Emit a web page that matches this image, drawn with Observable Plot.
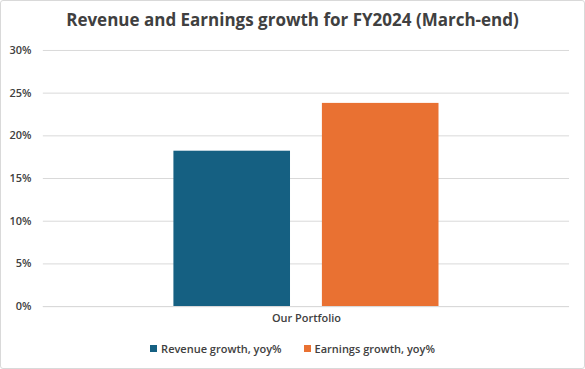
<!DOCTYPE html>
<html>
<head>
<meta charset="utf-8">
<script src="https://cdn.jsdelivr.net/npm/d3@7"></script>
<script src="https://cdn.jsdelivr.net/npm/@observablehq/plot@0.6"></script>
<style>
  html, body { margin: 0; padding: 0; background: #fff; }
  #wrap { width: 585px; height: 369px; box-sizing: border-box; border: 1px solid #d9d9d9; border-radius: 3px; position: relative; font-family: "Open Sans", sans-serif; color: #404040; overflow: hidden; }
  #title { position: absolute; top: 7px; left: 0; width: 100%; text-align: center; font-size: 17px; font-weight: 700; }
  #chart { position: absolute; top: 38px; left: 0; }
  #legend { position: absolute; top: 340px; left: 0; width: 100%; display: flex; justify-content: center; gap: 22px; font-size: 11px; font-weight: 600; }
  .item { display: flex; align-items: center; }
  .sw { width: 7px; height: 7px; margin-right: 4px; display: inline-block; }
</style>
</head>
<body>
<div id="wrap">
  <div id="title">Revenue and Earnings growth for FY2024 (March-end)</div>
  <div id="chart"></div>
  <div id="legend"></div>
</div>
<script>
const categories = ["Our Portfolio"];
const series = ["Revenue growth, yoy%", "Earnings growth, yoy%"];
const colors = ["#156082", "#E97132"];
const revenueGrowth = [18.2];
const earningsGrowth = [23.8];
const yTicks = [0, 5, 10, 15, 20, 25, 30];

const data = [];
categories.forEach((c, i) => {
  data.push({category: c, series: series[0], value: revenueGrowth[i]});
  data.push({category: c, series: series[1], value: earningsGrowth[i]});
});

const chart = Plot.plot({
  width: 585,
  height: 292,
  marginTop: 11,
  marginBottom: 24,
  marginLeft: 42,
  marginRight: 15,
  style: {fontFamily: "Open Sans, sans-serif", fontSize: "11px", color: "#404040", background: "transparent"},
  fx: {domain: categories, padding: 0, label: null, axis: "bottom", tickSize: 0, tickPadding: 8},
  x: {domain: series, paddingInner: 0.2133, paddingOuter: 0.8667, axis: null},
  y: {domain: [0, 30], ticks: yTicks, tickFormat: d => d + "%", label: null, tickSize: 0, tickPadding: 12},
  color: {domain: series, range: colors},
  marks: [
    Plot.gridY(yTicks, {stroke: "#d9d9d9", strokeOpacity: 1, strokeWidth: 1}),
    Plot.barY(data, {fx: "category", x: "series", y: "value", fill: "series"}),
    Plot.ruleY([0], {stroke: "#d9d9d9", strokeWidth: 1})
  ]
});
chart.querySelectorAll("[aria-label='y-axis tick label'] text, [aria-label='fx-axis tick label'] text").forEach(t => t.setAttribute("font-weight", "600"));
document.getElementById("chart").appendChild(chart);

const legend = document.getElementById("legend");
series.forEach((s, i) => {
  const it = document.createElement("div");
  it.className = "item";
  it.innerHTML = `<span class="sw" style="background:${colors[i]}"></span><span>${s}</span>`;
  legend.appendChild(it);
});
</script>
</body>
</html>
